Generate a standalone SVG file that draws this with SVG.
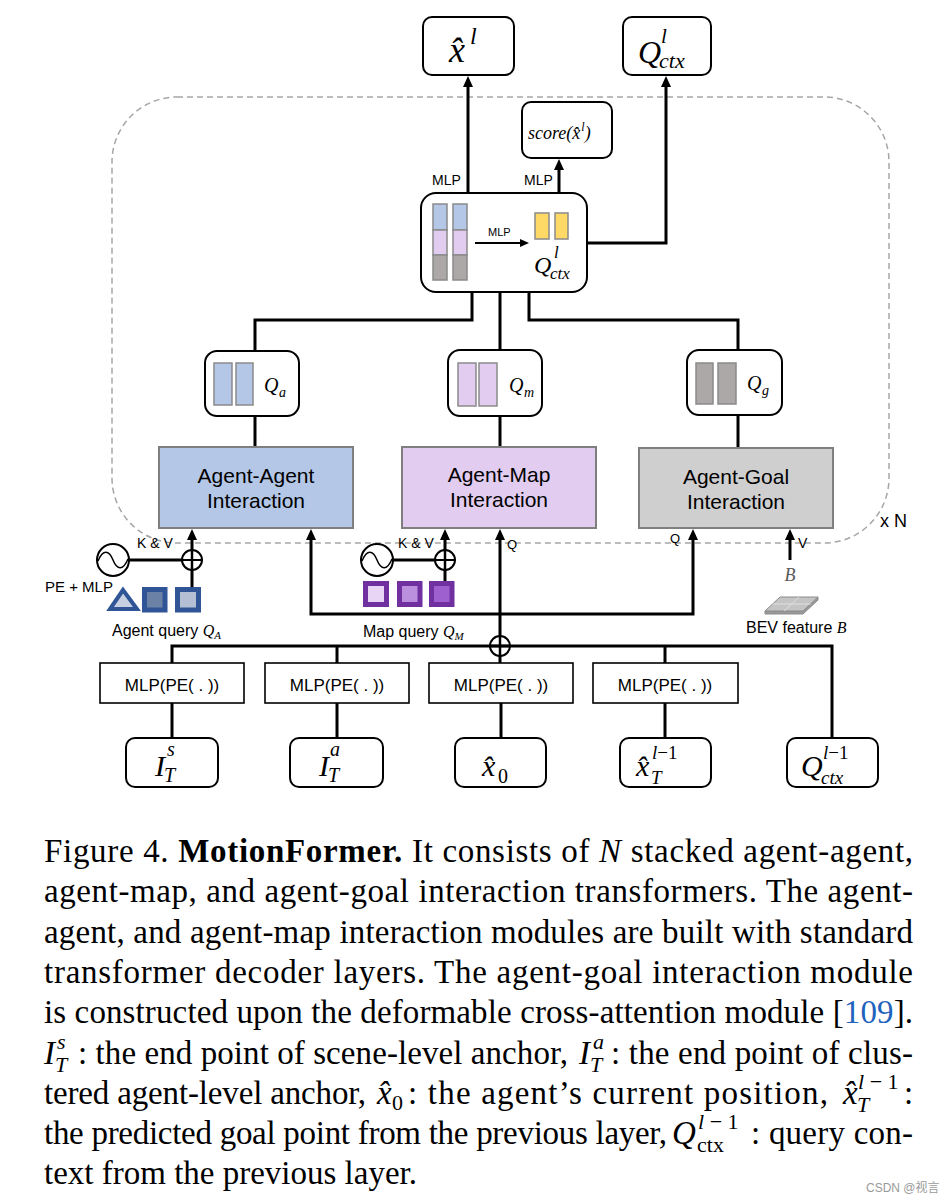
<svg xmlns="http://www.w3.org/2000/svg" width="946" height="1202" viewBox="0 0 946 1202">
<defs>
<marker id="ah" markerWidth="11" markerHeight="10" refX="3" refY="5" orient="auto" markerUnits="userSpaceOnUse"><path d="M0,0 L11,5 L0,10 z" fill="#000"/></marker>
<marker id="ahs" markerWidth="9" markerHeight="8" refX="2" refY="4" orient="auto" markerUnits="userSpaceOnUse"><path d="M0,0 L9,4 L0,8 z" fill="#000"/></marker>
<style>
.node{fill:#fff;stroke:#000;stroke-width:2}
.box{fill:#fff;stroke:#000;stroke-width:1.6}
.ln{fill:none;stroke:#000;stroke-width:3}
.ar{fill:none;stroke:#000;stroke-width:3;marker-end:url(#ah)}
.sans{font-family:"Liberation Sans",Arial,sans-serif;fill:#000}
.math{font-family:"Liberation Serif","Times New Roman",serif;font-style:italic;fill:#000}
.cap{font-family:"Liberation Serif","Times New Roman",serif;font-size:33px;fill:#000}
.scr{font-size:22px}
.bar{stroke:#8a8a8a;stroke-width:1.5}
.blue{fill:#b4c7e7}
.purp{fill:#e2cdf0}
.gray{fill:#aca8a8}
.yel{fill:#ffd966}
.inter{stroke:#7f7f7f;stroke-width:2}
.t21{font-size:21px}
.sym{fill:#fff;stroke:#000;stroke-width:2}
</style>
</defs>
<rect width="946" height="1202" fill="#fff"/>

<g id="frame">
<rect x="112" y="97" width="777" height="446" rx="65" fill="none" stroke="#a6a6a6" stroke-width="1.5" stroke-dasharray="6 4"/>
<text class="sans" x="880" y="527" font-size="18">x N</text>
</g>

<g id="connectors">
<path class="ar" d="M468,193 V84"/>
<path class="ar" d="M559,193 V167"/>
<path class="ar" d="M587,243 H666 V84"/>
<path class="ln" d="M472,292 V320 H255 V351"/>
<path class="ln" d="M500,292 V350"/>
<path class="ln" d="M529,292 V320 H738 V350"/>
<path class="ln" d="M255,416 V447"/>
<path class="ln" d="M500,416 V447"/>
<path class="ln" d="M738,415 V448"/>
<path class="ar" d="M192,550 V537"/>
<path class="ln" d="M192,570 V588"/>
<path class="ln" d="M129,560 H182"/>
<path class="ar" d="M445,550 V537"/>
<path class="ln" d="M445,570 V581"/>
<path class="ln" d="M393,560 H435"/>
<path class="ar" d="M500,614 H311 V537"/>
<path class="ar" d="M500,614 H693 V537"/>
<path class="ar" d="M500,636 V537"/>
<path class="ar" d="M790,560 V537"/>
<path class="ln" d="M172,663 V646 H832 V738"/>
<path class="ln" d="M337,646 V663"/>
<path class="ln" d="M665,646 V663"/>
<path class="ln" d="M500,656 V663"/>
<path class="ln" d="M172,703 V738"/>
<path class="ln" d="M337,703 V738"/>
<path class="ln" d="M501,703 V738"/>
<path class="ln" d="M665,703 V738"/>
</g>

<g id="out_x">
<rect class="node" x="423" y="17" width="91" height="58" rx="9"/>
<text class="math" x="449" y="62" font-size="36">x̂</text>
<text class="math" x="470" y="44" font-size="24">l</text>
</g>

<g id="out_qctx">
<rect class="node" x="623" y="17" width="88" height="58" rx="9"/>
<text class="math" x="638" y="63" font-size="32">Q</text>
<text class="math" x="661" y="43" font-size="21">l</text>
<text class="math" x="659" y="68" font-size="22">ctx</text>
</g>

<g id="score">
<rect class="node" x="522" y="102" width="90" height="56" rx="9"/>
<text class="math" x="528" y="139" font-size="18">score(x̂<tspan dx="1" dy="-8" font-size="12">l</tspan><tspan dy="8">)</tspan></text>
</g>
<g id="mlp_labels">
<text class="sans" x="432" y="185" font-size="14">MLP</text>
<text class="sans" x="524" y="185" font-size="14">MLP</text>
</g>

<g id="fusion">
<rect class="node" x="421" y="193" width="166" height="99" rx="15"/>
<rect class="bar blue" x="433" y="204" width="14" height="26"/>
<rect class="bar purp" x="433" y="230" width="14" height="25"/>
<rect class="bar gray" x="433" y="255" width="14" height="25"/>
<rect class="bar blue" x="453" y="204" width="14" height="26"/>
<rect class="bar purp" x="453" y="230" width="14" height="25"/>
<rect class="bar gray" x="453" y="255" width="14" height="25"/>
<path d="M475,243 H522" stroke="#000" stroke-width="2" marker-end="url(#ahs)"/>
<text class="sans" x="488" y="236" font-size="11">MLP</text>
<rect class="bar yel" x="535" y="213" width="14" height="26"/>
<rect class="bar yel" x="555" y="213" width="13" height="26"/>
<text class="math" x="534" y="273" font-size="24">Q</text>
<text class="math" x="554" y="258" font-size="17">l</text>
<text class="math" x="550" y="279" font-size="17">ctx</text>
</g>

<g id="qa">
<rect class="node" x="205" y="351" width="94" height="65" rx="12"/>
<rect class="bar blue" x="214" y="363" width="18" height="42"/>
<rect class="bar blue" x="236" y="363" width="17" height="42"/>
<text class="math" x="264" y="392" font-size="20">Q</text>
<text class="math" x="279" y="397" font-size="14">a</text>
</g>
<g id="qm">
<rect class="node" x="448" y="350" width="94" height="66" rx="12"/>
<rect class="bar purp" x="458" y="363" width="18" height="43"/>
<rect class="bar purp" x="479" y="363" width="18" height="43"/>
<text class="math" x="509" y="392" font-size="20">Q</text>
<text class="math" x="524" y="397" font-size="14">m</text>
</g>
<g id="qg">
<rect class="node" x="687" y="350" width="95" height="65" rx="12"/>
<rect class="bar gray" x="696" y="363" width="17" height="41"/>
<rect class="bar gray" x="718" y="363" width="18" height="41"/>
<text class="math" x="747" y="390" font-size="20">Q</text>
<text class="math" x="762" y="395" font-size="14">g</text>
</g>

<g id="agent_agent">
<rect class="inter" x="159" y="447" width="194" height="81" fill="#b4c7e7"/>
<text class="sans t21" x="256" y="483" text-anchor="middle">Agent-Agent</text>
<text class="sans t21" x="256" y="508" text-anchor="middle">Interaction</text>
</g>
<g id="agent_map">
<rect class="inter" x="402" y="447" width="194" height="81" fill="#e2cdf0"/>
<text class="sans t21" x="499" y="482" text-anchor="middle">Agent-Map</text>
<text class="sans t21" x="499" y="507" text-anchor="middle">Interaction</text>
</g>
<g id="agent_goal">
<rect class="inter" x="639" y="448" width="194" height="80" fill="#d0cfcf"/>
<text class="sans t21" x="736" y="484" text-anchor="middle">Agent-Goal</text>
<text class="sans t21" x="736" y="509" text-anchor="middle">Interaction</text>
</g>

<g id="agent_query">
<circle class="sym" cx="113" cy="560" r="16"/>
<path d="M98,561 C103,549 109,550 113,560 C117,570 123,571 128,559" fill="none" stroke="#000" stroke-width="1.5"/>
<circle class="sym" cx="192" cy="560" r="10" fill="none"/>
<path d="M182,560 H202" stroke="#000" stroke-width="2"/>
<path d="M192,550 V570" stroke="#000" stroke-width="2.5"/>
<text class="sans" x="137" y="548" font-size="14">K &amp; V</text>
<text class="sans" x="45" y="592" font-size="15">PE + MLP</text>
<polygon points="123,590 110,609 137,609" fill="#c7d0e0" stroke="#2f5597" stroke-width="4" stroke-linejoin="miter"/>
<rect x="144.5" y="589.5" width="20.5" height="20.5" fill="#6c81a6" stroke="#2f5597" stroke-width="5"/>
<rect x="177.5" y="589.5" width="21" height="20.5" fill="#b4bfd4" stroke="#2f5597" stroke-width="5"/>
<text class="sans" x="112" y="636" font-size="16">Agent query <tspan class="math">Q</tspan><tspan class="math" font-size="11" dy="3">A</tspan></text>
</g>

<g id="map_query">
<circle class="sym" cx="377" cy="560" r="16"/>
<path d="M362,561 C367,549 373,550 377,560 C381,570 387,571 392,559" fill="none" stroke="#000" stroke-width="1.5"/>
<circle class="sym" cx="445" cy="560" r="10" fill="none"/>
<path d="M435,560 H455" stroke="#000" stroke-width="2"/>
<path d="M445,550 V570" stroke="#000" stroke-width="2.5"/>
<text class="sans" x="398" y="548" font-size="14">K &amp; V</text>
<rect x="365.5" y="583.5" width="21" height="21" fill="#e8d5f6" stroke="#7030a0" stroke-width="5"/>
<rect x="399.5" y="583.5" width="20.5" height="21" fill="#bb8fdd" stroke="#7030a0" stroke-width="5"/>
<rect x="431.5" y="583.5" width="20.5" height="21" fill="#9e60cf" stroke="#7030a0" stroke-width="5"/>
<text class="sans" x="363" y="637" font-size="16">Map query <tspan class="math">Q</tspan><tspan class="math" font-size="11" dy="3">M</tspan></text>
</g>

<g id="trunk_sum">
<circle cx="500" cy="646" r="10" fill="none" stroke="#000" stroke-width="2"/>
<path d="M490,646 H510 M500,636 V656" stroke="#000" stroke-width="2.5"/>
<text class="sans" x="507" y="549" font-size="13">Q</text>
<text class="sans" x="670" y="543" font-size="13">Q</text>
<text class="sans" x="798" y="548" font-size="14">V</text>
</g>

<g id="bev">
<text class="math" x="790" y="581" font-size="18" text-anchor="middle" style="fill:#595959">B</text>
<polygon points="765,611 803,611 818,597 818,600 803,614 765,614" fill="#9a9a9a" stroke="#8c8c8c" stroke-width="1"/>
<polygon points="765,611 780,597 818,597 803,611" fill="#c4c4c4" stroke="#8c8c8c" stroke-width="1"/>
<path d="M772.5,604 H810.5 M799,597 L784,611" stroke="#e0e0e0" stroke-width="1"/>
<text class="sans" x="746" y="633" font-size="16">BEV feature <tspan class="math">B</tspan></text>
</g>

<g id="mlp1"><rect class="box" x="100" y="663" width="144" height="40"/><text class="sans" x="172" y="691" font-size="17" text-anchor="middle">MLP(PE( . ))</text></g>
<g id="mlp2"><rect class="box" x="265" y="663" width="144" height="40"/><text class="sans" x="337" y="691" font-size="17" text-anchor="middle">MLP(PE( . ))</text></g>
<g id="mlp3"><rect class="box" x="429" y="663" width="144" height="40"/><text class="sans" x="501" y="691" font-size="17" text-anchor="middle">MLP(PE( . ))</text></g>
<g id="mlp4"><rect class="box" x="593" y="663" width="145" height="40"/><text class="sans" x="665" y="691" font-size="17" text-anchor="middle">MLP(PE( . ))</text></g>

<g id="in_its">
<rect class="node" x="126" y="738" width="92" height="49" rx="9"/>
<text class="math" x="155" y="776" font-size="30">I</text>
<text class="math" x="167" y="756" font-size="20">s</text>
<text class="math" x="164" y="782" font-size="20">T</text>
</g>
<g id="in_ita">
<rect class="node" x="290" y="738" width="93" height="49" rx="9"/>
<text class="math" x="319" y="776" font-size="30">I</text>
<text class="math" x="330" y="756" font-size="20">a</text>
<text class="math" x="328" y="782" font-size="20">T</text>
</g>
<g id="in_x0">
<rect class="node" x="455" y="738" width="91" height="49" rx="9"/>
<text class="math" x="482" y="776" font-size="30">x̂</text>
<text class="math" x="498" y="783" font-size="20" style="font-style:normal">0</text>
</g>
<g id="in_xt">
<rect class="node" x="620" y="738" width="91" height="49" rx="9"/>
<text class="math" x="636" y="776" font-size="30">x̂</text>
<text class="math" x="652" y="759" font-size="19">l<tspan style="font-style:normal">−1</tspan></text>
<text class="math" x="651" y="784" font-size="19">T</text>
</g>
<g id="in_qctx">
<rect class="node" x="787" y="738" width="91" height="49" rx="9"/>
<text class="math" x="801" y="776" font-size="30">Q</text>
<text class="math" x="823" y="759" font-size="19">l<tspan style="font-style:normal">−1</tspan></text>
<text class="math" x="821" y="784" font-size="19">ctx</text>
</g>

<g id="caption">
<text class="cap" x="44" y="862" textLength="869" lengthAdjust="spacing">Figure 4. <tspan font-weight="bold">MotionFormer.</tspan> It consists of <tspan font-style="italic">N</tspan> stacked agent-agent,</text>
<text class="cap" x="44" y="902" textLength="869" lengthAdjust="spacing">agent-map, and agent-goal interaction transformers. The agent-</text>
<text class="cap" x="44" y="943" textLength="869" lengthAdjust="spacing">agent, and agent-map interaction modules are built with standard</text>
<text class="cap" x="44" y="983" textLength="869" lengthAdjust="spacing">transformer decoder layers. The agent-goal interaction module</text>
<text class="cap" x="44" y="1023" textLength="869" lengthAdjust="spacing">is constructed upon the deformable cross-attention module [<tspan fill="#1f63bd">109</tspan>].</text>
<text class="cap" x="44" y="1064" font-style="italic">I</text>
<text class="cap scr" x="57" y="1049" font-style="italic">s</text>
<text class="cap scr" x="55" y="1072" font-style="italic">T</text>
<text class="cap" x="78" y="1064" textLength="490" lengthAdjust="spacing">: the end point of scene-level anchor,</text>
<text class="cap" x="579" y="1064" font-style="italic">I</text>
<text class="cap scr" x="593" y="1049" font-style="italic">a</text>
<text class="cap scr" x="590" y="1072" font-style="italic">T</text>
<text class="cap" x="611" y="1064" textLength="302" lengthAdjust="spacing">: the end point of clus-</text>
<text class="cap" x="44" y="1104" textLength="322" lengthAdjust="spacing">tered agent-level anchor,</text>
<text class="cap" x="377" y="1104" font-style="italic">x̂</text>
<text class="cap scr" x="392" y="1110">0</text>
<text class="cap" x="408" y="1104" textLength="420" lengthAdjust="spacing">: the agent’s current position,</text>
<text class="cap" x="843" y="1104" font-style="italic">x̂</text>
<text class="cap scr" x="858" y="1089"><tspan font-style="italic">l</tspan> − 1</text>
<text class="cap scr" x="857" y="1112" font-style="italic">T</text>
<text class="cap" x="904" y="1104">:</text>
<text class="cap" x="44" y="1144" textLength="623" lengthAdjust="spacing">the predicted goal point from the previous layer,</text>
<text class="cap" x="672" y="1144" font-style="italic">Q</text>
<text class="cap scr" x="698" y="1129"><tspan font-style="italic">l</tspan> − 1</text>
<text class="cap scr" x="697" y="1152">ctx</text>
<text class="cap" x="751" y="1144" textLength="162" lengthAdjust="spacing">: query con-</text>
<text class="cap" x="44" y="1184">text from the previous layer.</text>
</g>

<g id="watermark">
<text x="866" y="1192" font-size="12" fill="#9a9a9a" font-family="'Liberation Sans','Noto Sans CJK SC',sans-serif">CSDN @视言</text>
</g>
</svg>
